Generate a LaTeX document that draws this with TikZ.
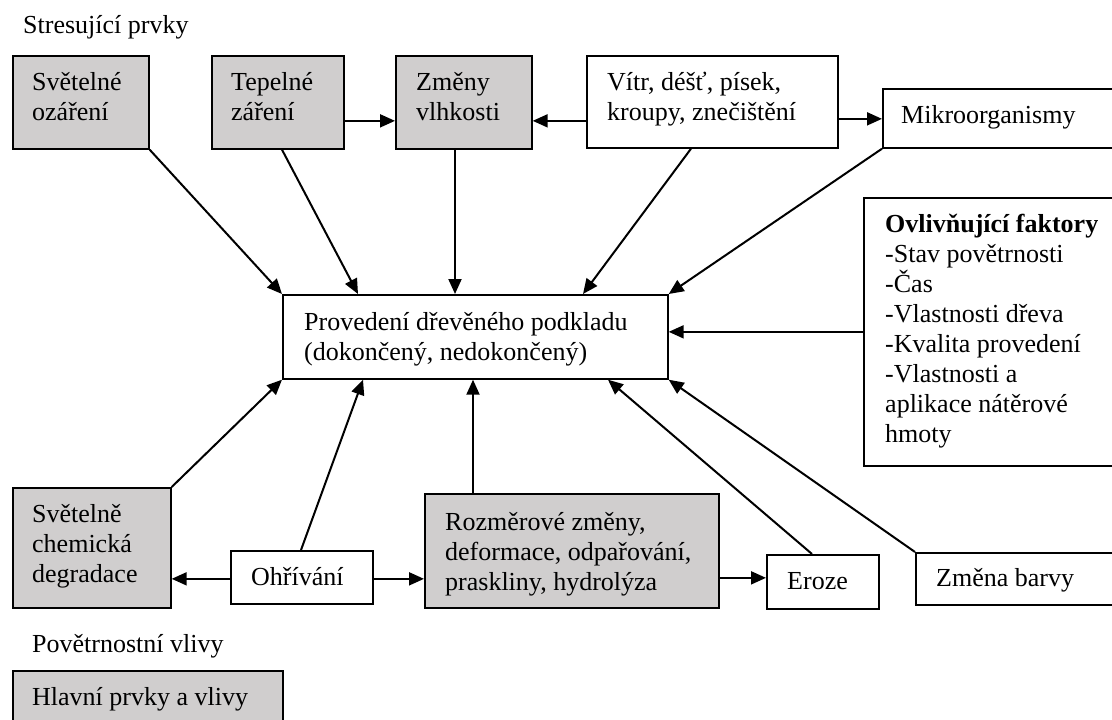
\documentclass[tikz,border=0pt]{standalone}
\usepackage{fontspec}
\setmainfont{Liberation Serif}
\usetikzlibrary{arrows.meta,calc}
\definecolor{boxgrey}{RGB}{208,206,206}
\newcommand\fl{\rule{0pt}{24pt}}
\begin{document}
\begin{tikzpicture}[x=1pt,y=-1pt,
  box/.style={draw, line width=1.7pt, inner sep=0pt, anchor=north west},
  greybox/.style={box, fill=boxgrey},
  whitebox/.style={box, fill=white},
  txt/.style={font=\fontsize{26}{30}\selectfont, align=left, inner sep=0pt, anchor=north west},
  arr/.style={line width=2pt, -{Triangle[length=15pt,width=13pt]}}]
\clip (0,0) rectangle (1112,720);
\fill[white] (0,0) rectangle (1112,720);

% boxes
\node[greybox, minimum width=136pt, minimum height=93pt] (A) at (12,55) {};
\node[greybox, minimum width=132pt, minimum height=93pt] (B) at (211,55) {};
\node[greybox, minimum width=136pt, minimum height=93pt] (C) at (395,55) {};
\node[whitebox, minimum width=251pt, minimum height=92pt] (D) at (586,55) {};
\node[whitebox, minimum width=248pt, minimum height=59pt] (M) at (882,88) {};
\node[whitebox, minimum width=267pt, minimum height=268pt] (O) at (863,197) {};
\node[whitebox, minimum width=385pt, minimum height=84pt] (P) at (282,294) {};
\node[greybox, minimum width=158pt, minimum height=120pt] (S) at (12,487) {};
\node[whitebox, minimum width=142pt, minimum height=53pt] (H) at (230,550) {};
\node[greybox, minimum width=294pt, minimum height=114pt] (R) at (424,493) {};
\node[whitebox, minimum width=112pt, minimum height=54pt] (E) at (766,554) {};
\node[whitebox, minimum width=215pt, minimum height=52pt] (Z) at (915,552) {};
\node[greybox, minimum width=270pt, minimum height=70pt] (L) at (12,670) {};

% texts
\node[txt] (t0) at (23,9) {\fl Stresující prvky};
\node[txt] (tA) at (32,66) {\fl Světelné\\ozáření};
\node[txt] (tB) at (231,66) {\fl Tepelné\\záření};
\node[txt] (tC) at (416,66) {\fl Změny\\vlhkosti};
\node[txt] (tD) at (607,66) {\fl Vítr, déšť, písek,\\kroupy, znečištění};
\node[txt] (tM) at (901,99) {\fl Mikroorganismy};
\node[txt] (tO) at (885,208) {\fl\textbf{Ovlivňující faktory}\\-Stav povětrnosti\\-Čas\\-Vlastnosti dřeva\\-Kvalita provedení\\-Vlastnosti a\\aplikace nátěrové\\hmoty};
\node[txt] (tP) at (304,306) {\fl Provedení dřevěného podkladu\\(dokončený, nedokončený)};
\node[txt] (tS) at (32,498) {\fl Světelně\\chemická\\degradace};
\node[txt] (tH) at (251,561) {\fl Ohřívání};
\node[txt] (tR) at (445,506) {\fl Rozměrové změny,\\deformace, odpařování,\\praskliny, hydrolýza};
\node[txt] (tE) at (787,565) {\fl Eroze};
\node[txt] (tZ) at (936,562) {\fl Změna barvy};
\node[txt] (t1) at (32,628) {\fl Povětrnostní vlivy};
\node[txt] (tL) at (32,681) {\fl Hlavní prvky a vlivy};

% top connectors
\draw[arr] ([yshift=-18.5pt]B.east) -- ([yshift=-18.5pt]C.west);
\draw[arr] ([yshift=-19pt]D.west) -- ([yshift=-18.5pt]C.east);
\draw[arr] ([yshift=-0.5pt]M.west -| D.east) -- ([yshift=-0.5pt]M.west);
\draw[arr] (A.south east) -- (P.north west);
\draw[arr] ([xshift=71pt]B.south west) -- ([xshift=76pt]P.north west);
\draw[arr] ([xshift=60pt]C.south west) -- ([xshift=173pt]P.north west);
\draw[arr] ([xshift=105pt]D.south west) -- ([xshift=301pt]P.north west);
\draw[arr] (M.south west) -- (P.north east);
\draw[arr] (O.west) -- (O.west -| P.east);

% bottom connectors
\draw[arr] (S.north east) -- (P.south west);
\draw[arr] ([xshift=71pt]H.north west) -- ([xshift=81pt]P.south west);
\draw[arr] ([xshift=49pt]R.north west) -- ([xshift=191pt]P.south west);
\draw[arr] ([xshift=46pt]E.north west) -- ([xshift=326pt]P.south west);
\draw[arr] (Z.north west) -- (P.south east);
\draw[arr] ([yshift=-1.5pt]H.west) -- ([yshift=-1.5pt]H.west -| S.east);
\draw[arr] ([yshift=-1.5pt]H.east) -- ([yshift=-1.5pt]H.east -| R.west);
\draw[arr] ([yshift=4pt]E.west -| R.east) -- ([yshift=4pt]E.west);
\end{tikzpicture}
\end{document}
